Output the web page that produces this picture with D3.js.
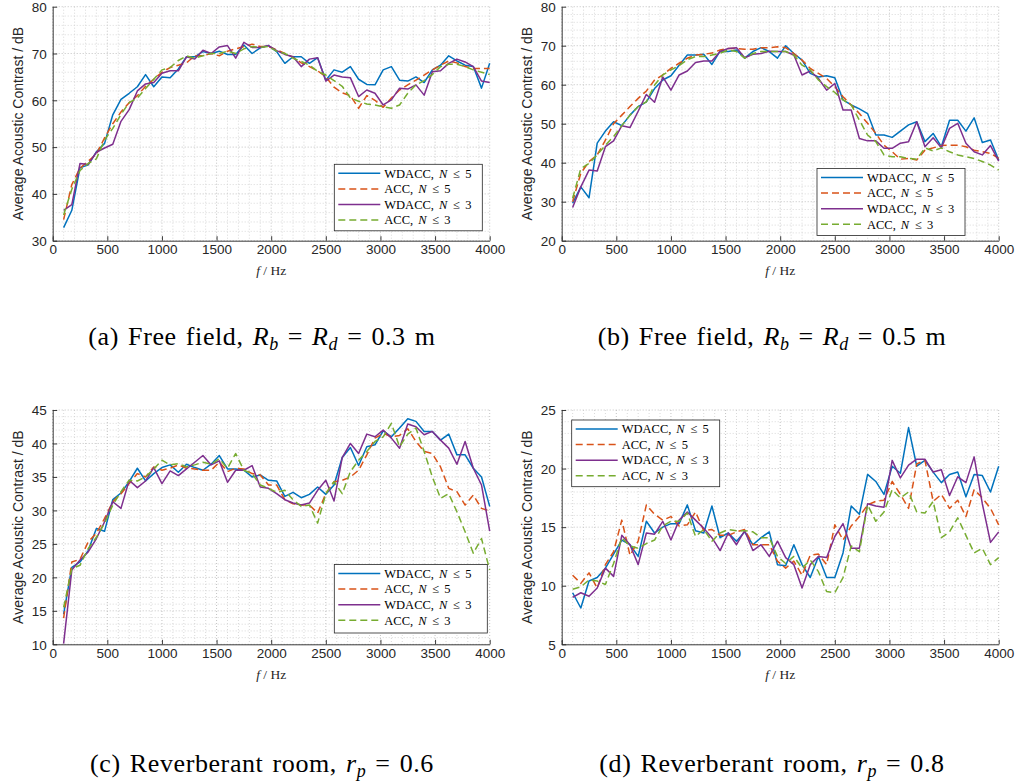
<!DOCTYPE html>
<html><head><meta charset="utf-8">
<script src="https://cdn.jsdelivr.net/npm/d3@7"></script>
<style>body{margin:0;background:#fff}</style>
</head><body>
<svg id="chart" width="1017" height="782"></svg>
<script>
// ---------------- data ----------------
const freq = [100,175,250,325,400,475,550,625,700,775,850,925,1000,1075,1150,1225,1300,1375,1450,1525,1600,1675,1750,1825,1900,1975,2050,2125,2200,2275,2350,2425,2500,2575,2650,2725,2800,2875,2950,3025,3100,3175,3250,3325,3400,3475,3550,3625,3700,3775,3850,3925,4000];
const xTicks = [0,500,1000,1500,2000,2500,3000,3500,4000];
const yTicksA = [30,40,50,60,70,80];
const yTicksB = [20,30,40,50,60,70,80];
const yTicksC = [10,15,20,25,30,35,40,45];
const yTicksD = [5,10,15,20,25];
const seriesLabels = [["WDACC,","5"],["ACC,","5"],["WDACC,","3"],["ACC,","3"]];

// (a) Free field, Rb = Rd = 0.3 m
const aW5 = [32.8,36.5,45.6,46.2,49.0,50.8,56.9,60.2,61.5,62.9,65.5,62.9,65.0,64.8,66.7,69.3,69.3,70.4,70.0,70.5,69.8,69.8,71.8,70.0,71.2,71.7,70.4,67.9,69.3,69.3,67.9,69.1,64.3,66.5,66.0,67.2,64.5,63.4,63.3,66.5,67.2,64.3,64.1,65.0,63.8,66.5,67.5,69.5,68.4,67.5,67.2,62.6,67.9];
const aA5 = [34.5,42,45.5,47,48.5,52,55,57.5,59.5,61,63,64.5,66,67,67.5,68,69.5,69.5,70,69.5,70.5,71,71.5,72,71.5,71.5,70.8,70,69.2,68,67.2,66.3,65,62.8,61.6,61,58.3,61,60,58.5,60.5,62.2,63.3,64.3,65.4,66.5,67.5,68.4,68,67.2,66.8,66.8,66.8];
const aW3 = [36.5,37.7,46.5,46.3,48.9,49.8,50.6,55.5,58,62,63.5,63.8,65.8,66.3,66.3,69.3,68.8,70.7,70,71.4,71.7,69,72.4,71.3,71.3,71.7,70.6,69.8,69.3,67.2,68.8,69.1,64.1,65.4,65,64.8,60.8,62.2,61.5,59,60.1,62.6,62.4,63.3,61.1,66.1,66.3,67.9,68.8,68.2,67.2,64.1,63.8];
const aA3 = [35.5,41,45,46.5,47.5,51.5,54,57,59.5,60.5,62.5,64.5,66.5,67,68.5,69.5,69,69.5,70,70,70.5,70,71,71.5,71.3,71.5,70.5,70,69,68.3,67.5,66.2,65.4,64.2,63,60.5,59.8,59.2,59,58.6,58.3,59,61.5,63.3,64.2,65.5,67.2,67.7,67.7,67.2,66.5,66,65.5];
// (b) Free field, Rb = Rd = 0.5 m
const bW5 = [29.6,33.8,31,45,48.1,50.5,49.5,52.2,54.4,55.6,59,61.2,62.3,65,67.6,67.6,67.8,65.2,68.6,68.5,68.9,66.8,68.5,69.5,68.5,66.8,70,68,66.3,62.9,62,62.3,61.8,56.1,54.8,53.8,52.6,47.1,47.1,46.5,48.1,49.7,50.5,45.4,47.5,44.1,50.9,50.9,48.1,51.5,45.2,45.8,40.7];
const bA5 = [30,37.3,40.3,42,45.8,50,52.2,54.4,56.5,58.4,61.2,62.5,64.2,65.5,66.8,67.6,67.8,68.1,68.9,69.3,69.3,69.1,69.1,69.5,69.5,69.7,69.5,68,66.3,64.2,62.9,61.6,59.5,56.9,54.8,52.6,50.1,47.5,44.5,42.8,40.9,41.1,40.7,43.2,43.8,44.4,44.5,44.5,44.1,43.2,42.8,42.4,41.1];
const bW3 = [28.5,33.8,38.1,37.9,44.1,45.6,49.5,49,53.2,57.5,55.5,62,58.6,62.5,63.5,65.7,66.1,66.1,68.5,69.3,69.5,66.9,67.8,68,68.6,68.5,68.5,67.6,62.5,63.5,61.6,58.6,60.3,53.5,53.5,46.2,45.6,45.6,43.7,43.7,45,45.4,50.5,44.1,46.4,43.8,48.8,50.1,45,42.8,42,44.4,40.4];
const bA3 = [30.9,38.5,39.8,42,44.5,46.7,49.5,52.2,54.4,55.6,59.9,62.5,63.8,64.9,66.4,67.2,67.2,67.6,68.1,68.9,68.5,66.8,68,68.5,68.5,68.5,68.5,67.6,65,63.8,61.2,59.5,58,56.1,54.8,50.9,47.1,45.4,42,41.5,41.5,41.1,40.9,43.8,43,43.8,42.8,42,41.5,41.1,40.3,39.4,38.1];
// (c) Reverberant room, rp = 0.6
const cW5 = [14.5,21.5,22.3,24,27.3,26.9,31.6,32.6,34.3,36.3,34.4,35.5,36.4,36.8,35.7,36.9,36.4,36.0,36.9,38.2,36.2,36.2,36.0,35.0,35.3,34.5,34.4,32.1,32.7,31.9,32.4,33.5,32.4,33.8,37.9,39.4,36.7,39.5,39.8,41.9,41,42.3,43.7,43.3,41.8,41.8,40.5,41.4,38.3,38.3,36.3,35,30.6];
const cA5 = [13.9,22.3,22.7,25.3,26.6,28.8,31.3,32.5,34,35.5,35,36.5,36,36.3,36.8,36.3,36.2,36,36,37.2,35.8,36.3,36.2,35.5,35.3,33.8,33.8,31.6,31,30.8,30.8,29.6,32.5,34.3,34.5,35,36,38.3,40.8,41.5,41,41.2,42.2,40.3,38.8,38.5,36.5,33.3,32.8,30.8,32.3,30.3,29.9];
const cW3 = [10.1,21.1,22.6,23.8,25.8,28.3,31.3,30.3,34.5,33.4,34.4,36.4,34,35.9,35.2,36.2,37.2,38.2,36.8,37.4,34.2,36,36,36.7,33.5,33.3,32.5,31.6,31.1,30.8,31.1,33,34.5,31.4,37.9,40,38.5,41.4,41,42,40.8,39.3,42.9,42.5,41.3,41.8,40.5,39.3,36.9,40.3,36.3,33.8,26.9];
const cA3 = [15.5,21.3,21.8,24.3,26,28.1,30.8,32.8,34.5,34.4,35,36.2,37.5,36.8,37,36.5,36.8,37.2,36.9,37.7,36.3,38.5,36,35.5,33.8,33.3,32.7,33,31.6,30.6,30.8,28.1,32.5,34.3,32.5,35.8,37.5,38.8,40.3,41,43,39.5,41.4,42.3,38.8,35,31.8,32.5,29.8,26.8,23.6,25.8,21.1];
// (d) Reverberant room, rp = 0.8
const dW5 = [9.4,8.1,10.4,10.7,11.5,12.7,13.9,13.5,12.5,15.5,14.5,15,15.3,15.3,16.9,14.7,14.5,16.8,14.1,14.5,13.8,14.6,13.5,14.1,14.6,11.8,11.7,13.5,11.8,10.7,12.5,10.7,10.7,12.8,16.8,16.1,19.5,18.9,17.8,20.2,19.6,23.5,20.2,20.7,19.7,18.8,19.5,19.7,17.6,19.5,19.4,18,20.2];
const dA5 = [10.9,10.2,11.1,9.8,11.8,12.9,15.6,12.6,13.8,16.9,16.1,15.6,15.9,15.1,15.2,16.3,14.7,14.8,14.3,14.3,14.6,14.8,13.5,13.5,13.5,12.1,11.5,12.1,10.9,12.6,12.7,11.8,15.2,13.9,15.1,15.9,16.9,17.2,17.3,18.9,17.8,16.6,20.4,20.7,17.2,17.8,16.6,17.3,15.9,18.2,17.5,16.6,15.2];
const dW3 = [9,9.4,9.1,9.8,11.5,10.8,14.3,13.5,11.8,14.5,14.4,15.5,13.9,15.6,16.3,15.6,14.9,14.1,13,14.5,13.5,14.7,13,13.5,12.5,13.8,12.4,11.8,9.8,11.8,12.5,12.4,14.2,15.3,13.2,13.2,17,16.8,16.7,20.7,19.2,20.3,20.8,20.8,19.7,19.9,17.7,19.3,18.8,21,17,13.7,14.6];
const dA3 = [9.7,9.9,10.5,10.4,10.1,11.9,14.1,13.4,13.2,13.6,13.9,15.1,15.5,15.5,16.2,14.2,14.8,13.8,14.5,14.8,14.7,14.7,14.6,14.1,14.1,12.5,11.9,12.5,11.5,12.2,11.2,9.5,9.4,10.7,13.4,12.9,16.9,15.5,16.3,18.2,17.5,18,16.3,16.2,17.2,14.1,14.6,15.8,14.3,12.8,13.2,11.8,12.4];

// ---------------- styles / layout ----------------
const seriesStyles = [
  {color:"#0072BD", dash:null},
  {color:"#D95319", dash:"7,4"},
  {color:"#7E2F8E", dash:null},
  {color:"#77AC30", dash:"7,4"}
];
const W = 437;
const panels = [
  {left:52.7, top:6.7, h:234, series:[aW5,aA5,aW3,aA3], yTicks:yTicksA, minor:2,
   legend:{x:334.3,y:164.3,w:148,h:66.5},
   cap:{x:262, y:345, letter:"(a) Free field, ", kind:"R", val:"0.3 m"}},
  {left:561.7, top:6.7, h:234, series:[bW5,bA5,bW3,bA3], yTicks:yTicksB, minor:2,
   legend:{x:817,y:168.5,w:148,h:67},
   cap:{x:772, y:345, letter:"(b) Free field, ", kind:"R", val:"0.5 m"}},
  {left:52.7, top:410, h:234.3, series:[cW5,cA5,cW3,cA3], yTicks:yTicksC, minor:1,
   legend:{x:334.3,y:564.5,w:153,h:68.5},
   cap:{x:262, y:772, letter:"(c) Reverberant room, ", kind:"r", val:"0.6"}},
  {left:561.7, top:410, h:234.3, series:[dW5,dA5,dW3,dA3], yTicks:yTicksD, minor:1,
   legend:{x:571.7,y:420,w:148,h:66.7},
   cap:{x:772, y:772, letter:"(d) Reverberant room, ", kind:"r", val:"0.8"}}
];

const svg = d3.select("#chart");
const SANS = "'Liberation Sans', Arial, Helvetica, sans-serif";
const SERIF = "'Liberation Serif', 'Times New Roman', serif";
const AX = "#262626";

panels.forEach((p, pi) => {
  const yDom = [p.yTicks[0], p.yTicks[p.yTicks.length-1]];
  const x = d3.scaleLinear().domain([0,4000]).range([p.left, p.left+W]);
  const y = d3.scaleLinear().domain(yDom).range([p.top+p.h, p.top]);
  const g = svg.append("g");

  // grid
  const gx = d3.range(0, 4001, 100);
  const gy = d3.range(yDom[0], yDom[1]+0.001, p.minor);
  g.selectAll(null).data(gx).enter().append("line")
    .attr("x1", d=>x(d)).attr("x2", d=>x(d)).attr("y1", p.top).attr("y2", p.top+p.h)
    .attr("stroke", d => d%500===0 ? "#b4b4b4" : "#cfcfcf").attr("stroke-width", 0.8)
    .attr("stroke-dasharray", "1,2");
  g.selectAll(null).data(gy).enter().append("line")
    .attr("y1", d=>y(d)).attr("y2", d=>y(d)).attr("x1", p.left).attr("x2", p.left+W)
    .attr("stroke", d => p.yTicks.includes(d) ? "#b4b4b4" : "#cfcfcf").attr("stroke-width", 0.8)
    .attr("stroke-dasharray", "1,2");

  // series
  const line = d3.line().x((d,i)=>x(freq[i])).y(d=>y(d));
  p.series.forEach((s, si) => {
    g.append("path").datum(s).attr("d", line)
      .attr("fill","none").attr("stroke", seriesStyles[si].color)
      .attr("stroke-width", 1.5).attr("stroke-linejoin","round")
      .attr("stroke-dasharray", seriesStyles[si].dash);
  });

  // axes
  const xAxis = d3.axisBottom(x).tickValues(xTicks).tickFormat(d3.format("d"))
    .tickSizeInner(-4.5).tickSizeOuter(0).tickPadding(7);
  const yAxis = d3.axisLeft(y).tickValues(p.yTicks).tickFormat(d3.format("d"))
    .tickSizeInner(-4.5).tickSizeOuter(0).tickPadding(7);
  const gxA = g.append("g").attr("transform", `translate(0,${p.top+p.h})`).call(xAxis);
  const gyA = g.append("g").attr("transform", `translate(${p.left},0)`).call(yAxis);
  [gxA, gyA].forEach(a => {
    a.select(".domain").attr("stroke", AX).attr("stroke-width", 0.9);
    a.selectAll(".tick line").attr("stroke", AX).attr("stroke-width", 0.9);
    a.selectAll(".tick text").attr("fill", AX).style("font-family", SANS).style("font-size", "13.5px");
  });
  gxA.selectAll(".tick text").attr("y", 13.5).attr("dy", "0");
  gyA.selectAll(".tick text").attr("x", -6).attr("dy", "0.35em");

  // y label
  svg.append("text")
    .attr("transform", `translate(${p.left-29.7},${p.top+p.h/2}) rotate(-90)`)
    .attr("text-anchor","middle").style("font-family", SANS).style("font-size","14px")
    .attr("fill", AX).text("Average Acoustic Contrast / dB");

  // x label
  const xl = svg.append("text").attr("x", p.left+W/2).attr("y", p.top+p.h+34.5)
    .attr("text-anchor","middle").style("font-family", SERIF).style("font-size","13.5px").attr("fill", AX);
  xl.append("tspan").style("font-style","italic").text("f");
  xl.append("tspan").text(" / Hz");

  // legend
  const L = p.legend;
  const lg = svg.append("g");
  lg.append("rect").attr("x", L.x).attr("y", L.y).attr("width", L.w).attr("height", L.h)
    .attr("fill","#fff").attr("stroke", AX).attr("stroke-width", 0.8);
  seriesLabels.forEach((lab, si) => {
    const yy = L.y + 9 + si*15.6;
    lg.append("line").attr("x1", L.x+4).attr("x2", L.x+46).attr("y1", yy).attr("y2", yy)
      .attr("stroke", seriesStyles[si].color).attr("stroke-width", 1.5)
      .attr("stroke-dasharray", seriesStyles[si].dash);
    const t = lg.append("text").attr("x", L.x+50).attr("y", yy+4.2)
      .style("font-family", SERIF).style("font-size","12.5px").attr("fill","#000");
    t.append("tspan").text(lab[0]);
    t.append("tspan").attr("dx", 5).style("font-style","italic").text("N");
    t.append("tspan").attr("dx", 6).text("≤");
    t.append("tspan").attr("dx", 5).text(lab[1]);
  });

  // caption
  const c = p.cap;
  const ct = svg.append("text").attr("x", c.x).attr("y", c.y).attr("text-anchor","middle")
    .style("font-family", SERIF).style("font-size","26px")
    .style("letter-spacing","0.6px").style("word-spacing","2px").attr("fill","#000");
  ct.append("tspan").text(c.letter);
  const sub = (s) => ct.append("tspan").attr("dy", 5).style("font-size","18px").style("font-style","italic").text(s);
  if (c.kind === "R") {
    ct.append("tspan").style("font-style","italic").text("R");
    sub("b");
    ct.append("tspan").attr("dy", -5).attr("dx", 9).text("=");
    ct.append("tspan").attr("dx", 9).style("font-style","italic").text("R");
    sub("d");
    ct.append("tspan").attr("dy", -5).attr("dx", 9).text("=");
    ct.append("tspan").attr("dx", 9).text(c.val);
  } else {
    ct.append("tspan").style("font-style","italic").text("r");
    sub("p");
    ct.append("tspan").attr("dy", -5).attr("dx", 9).text("=");
    ct.append("tspan").attr("dx", 9).text(c.val);
  }
});
</script>
</body></html>
